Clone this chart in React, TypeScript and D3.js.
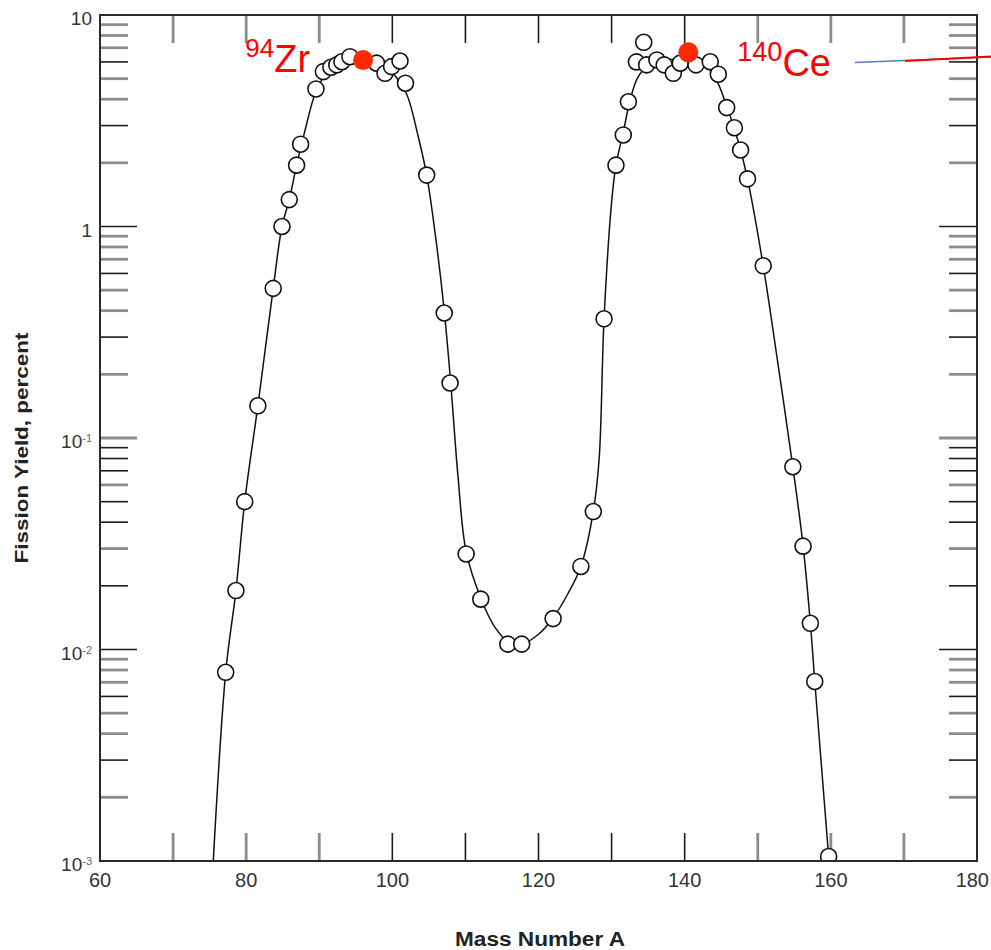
import React from 'react';
import * as d3 from 'd3';

// ---- data ----
const massNumbers = [
  77.2, 78.6, 79.8, 81.6, 83.7, 84.9, 85.9, 86.9, 87.45, 89.55, 90.56, 91.6, 92.4, 93.1, 94.2,
  97.85, 99.0, 99.9, 101.05, 101.8, 104.7, 107.1, 107.9, 110.1, 112.1, 115.8, 117.7, 122.0,
  125.8, 127.5, 128.97, 130.6, 131.6, 132.3, 133.4, 134.4, 134.8, 136.2, 137.2, 138.45, 139.4,
  141.55, 143.5, 144.6, 145.75, 146.8, 147.65, 148.6, 150.75, 154.8, 156.2, 157.2, 157.8, 159.7,
];
const fissionYields = [
  0.0078, 0.019, 0.05, 0.142, 0.51, 1.0, 1.34, 1.95, 2.45, 4.47, 5.4, 5.66, 5.81, 6.01, 6.35,
  5.92, 5.3, 5.7, 6.06, 4.76, 1.75, 0.39, 0.182, 0.0283, 0.0173, 0.0106, 0.0106, 0.014,
  0.0247, 0.0449, 0.366, 1.95, 2.71, 3.89, 6.0, 7.43, 5.81, 6.13, 5.81, 5.3, 5.92,
  5.81, 6.01, 5.25, 3.65, 2.93, 2.3, 1.68, 0.652, 0.0731, 0.0308, 0.0133, 0.00706, 0.00105,
];
const curveMass = [
  75.5, 77.2, 78.6, 79.8, 81.6, 83.7, 84.9, 85.9, 86.9, 88.0, 89.5, 91.0, 93.0, 95.0, 97.0, 99.0,
  100.5, 102.0, 103.5, 104.7, 106.0, 107.1, 108.0, 109.0, 110.1, 112.1, 114.0, 116.0, 118.0, 120.0,
  122.0, 124.0, 125.8, 127.5, 128.3, 128.97, 130.0, 130.6, 131.6, 132.5, 133.5, 135.0, 137.0, 139.0,
  141.0, 143.0, 144.5, 145.75, 146.8, 147.65, 148.6, 150.75, 152.8, 154.8, 156.2, 157.2, 157.8, 159.7,
];
const curveYield = [
  0.001, 0.0078, 0.019, 0.05, 0.142, 0.51, 1.0, 1.34, 1.95, 2.8, 4.3, 5.3, 5.95, 6.2, 6.1, 5.7,
  5.1, 4.2, 2.7, 1.75, 0.85, 0.4, 0.18, 0.065, 0.029, 0.0175, 0.0128, 0.0108, 0.0107, 0.0118,
  0.0141, 0.0183, 0.0247, 0.045, 0.08, 0.366, 1.3, 1.95, 2.8, 3.9, 5.0, 5.8, 6.1, 6.2,
  6.1, 5.7, 4.8, 3.7, 2.9, 2.3, 1.68, 0.652, 0.22, 0.073, 0.031, 0.0133, 0.0071, 0.00105,
];
const xTickValues = [60, 80, 100, 120, 140, 160, 180];
const xMinorTickValues = [70, 80, 90, 100, 110, 120, 130, 140, 150, 160, 170];
const yDecadeValues = [0.001, 0.01, 0.1, 1, 10];
const yLabelBase = ['10', '10', '10', '1', '10'];
const yLabelExp = ['-3', '-2', '-1', '', ''];
const markedMass = [96.0, 140.5];
const markedYield = [6.12, 6.66];
const markedIsotopeMass = ['94', '140'];
const markedIsotopeSymbol = ['Zr', 'Ce'];
const xTitle = 'Mass Number A';
const yTitle = 'Fission Yield, percent';

const W = 991;
const H = 950;
const L = 100, R = 977, T = 15, B = 861;
const FONT = '"Liberation Sans", Arial, Helvetica, sans-serif';

const x = d3.scaleLinear().domain([60, 180]).range([L, R]);
const y = d3.scaleLog().domain([0.001, 10]).range([B, T]);

const BLACK_TICK = { stroke: '#1c1c1c', strokeWidth: 1.6 };
const GRAY_TICK = { stroke: '#8c8c8c', strokeWidth: 2.8 };

function yTone(v: number) {
  const exp = Math.floor(Math.log10(v) + 1e-9);
  const m = Math.round(v / Math.pow(10, exp));
  if (m === 1) return exp === -1 ? GRAY_TICK : BLACK_TICK;
  const dark = m === 6 || m === 3;
  const isDark = exp === -2 ? !dark : dark;
  return isDark ? BLACK_TICK : GRAY_TICK;
}
function xTone(v: number) {
  return v < 95 || v > 145 ? GRAY_TICK : BLACK_TICK;
}

export default function App() {
  const minorY: number[] = [];
  for (let e = -3; e <= 0; e++) {
    for (let m = 2; m <= 9; m++) minorY.push(m * Math.pow(10, e));
  }
  const majorInner = yDecadeValues.filter((v) => v > 0.001 && v < 10);

  const curvePts: [number, number][] = curveMass.map((a, i) => [x(a), y(curveYield[i])]);
  const line = d3.line().curve(d3.curveCatmullRom.alpha(0.5))(curvePts) || '';

  return (
    <svg
      width={W}
      height={H}
      viewBox={`0 0 ${W} ${H}`}
      style={{ position: 'absolute', left: 0, top: 0, background: '#fff' }}
    >
      <defs>
        <clipPath id="plotClip">
          <rect x={L} y={0} width={R - L} height={B} />
        </clipPath>
      </defs>
      <rect x={0} y={0} width={W} height={H} fill="#fff" />

      {/* x ticks: top and bottom */}
      {xMinorTickValues.map((v) => (
        <g key={'xt' + v} {...xTone(v)}>
          <line x1={x(v)} x2={x(v)} y1={T} y2={T + 28} />
          <line x1={x(v)} x2={x(v)} y1={B} y2={B - 28} />
        </g>
      ))}

      {/* y minor ticks: left and right */}
      {minorY.map((v) => (
        <g key={'ym' + v} {...yTone(v)}>
          <line x1={L} x2={L + 28} y1={y(v)} y2={y(v)} />
          <line x1={R - 28} x2={R} y1={y(v)} y2={y(v)} />
        </g>
      ))}
      {majorInner.map((v) => (
        <g key={'yM' + v} {...yTone(v)}>
          <line x1={L} x2={L + 37} y1={y(v)} y2={y(v)} />
          <line x1={R - 38} x2={R} y1={y(v)} y2={y(v)} />
        </g>
      ))}

      {/* curve and points */}
      <g clipPath="url(#plotClip)">
        <path d={line} fill="none" stroke="#111" strokeWidth={1.5} />
        {massNumbers.map((a, i) => (
          <circle
            key={'p' + i}
            cx={x(a)}
            cy={y(fissionYields[i])}
            r={8}
            fill="#fff"
            stroke="#111"
            strokeWidth={1.6}
          />
        ))}
      </g>

      {/* frame */}
      <rect x={L} y={T} width={R - L} height={B - T} fill="none" stroke="#2a2a2a" strokeWidth={2} />

      {/* x tick labels */}
      {xTickValues.map((v, i) => {
        const last = i === xTickValues.length - 1;
        return (
          <text
            key={'xl' + v}
            x={last ? W - 2 : x(v)}
            y={B + 26}
            textAnchor={last ? 'end' : 'middle'}
            fontFamily={FONT}
            fontSize={20}
            fill="#333"
          >
            {v}
          </text>
        );
      })}

      {/* y tick labels */}
      {yDecadeValues.map((v, i) => (
        <text
          key={'yl' + v}
          x={92}
          y={y(v) + 10}
          textAnchor="end"
          fontFamily={FONT}
          fontSize={19}
          fill="#333"
        >
          {yLabelBase[i]}
          {yLabelExp[i] ? (
            <tspan fontSize={11} dy={-6} fill="#666">
              {yLabelExp[i]}
            </tspan>
          ) : null}
        </text>
      ))}

      {/* axis titles */}
      <text
        x={540}
        y={946}
        textAnchor="middle"
        fontFamily={FONT}
        fontWeight="bold"
        fontSize={20}
        fill="#222"
        textLength={170}
        lengthAdjust="spacingAndGlyphs"
      >
        {xTitle}
      </text>
      <text
        transform="translate(28,448) rotate(-90)"
        textAnchor="middle"
        fontFamily={FONT}
        fontWeight="bold"
        fontSize={19}
        fill="#222"
        textLength={231}
        lengthAdjust="spacingAndGlyphs"
      >
        {yTitle}
      </text>

      {/* annotation line leaving to the right */}
      <line x1={855} y1={62.5} x2={W} y2={57} stroke="#4f81bd" strokeWidth={1.6} />
      <line x1={905} y1={61} x2={W} y2={56.5} stroke="#ff0000" strokeWidth={2} />

      {/* marked nuclides */}
      {markedMass.map((a, i) => {
        const cx = x(a);
        const cy = y(markedYield[i]);
        return <circle key={'m' + i} cx={cx} cy={cy} r={10} fill="#ff2a00" />;
      })}
      {(() => {
        const zx = x(markedMass[0]);
        const zy = y(markedYield[0]);
        const cx = x(markedMass[1]);
        const cy = y(markedYield[1]);
        return (
          <g fontFamily={FONT} fill="#ff0000">
            <text x={zx - 53} y={zy + 12} textAnchor="end">
              <tspan fontSize={26} dy={-15}>
                {markedIsotopeMass[0]}
              </tspan>
              <tspan fontSize={38} dy={15}>
                {markedIsotopeSymbol[0]}
              </tspan>
            </text>
            <text x={cx + 49} y={cy + 24} textAnchor="start">
              <tspan fontSize={27} dy={-15}>
                {markedIsotopeMass[1]}
              </tspan>
              <tspan fontSize={38} dy={15}>
                {markedIsotopeSymbol[1]}
              </tspan>
            </text>
          </g>
        );
      })()}
    </svg>
  );
}
